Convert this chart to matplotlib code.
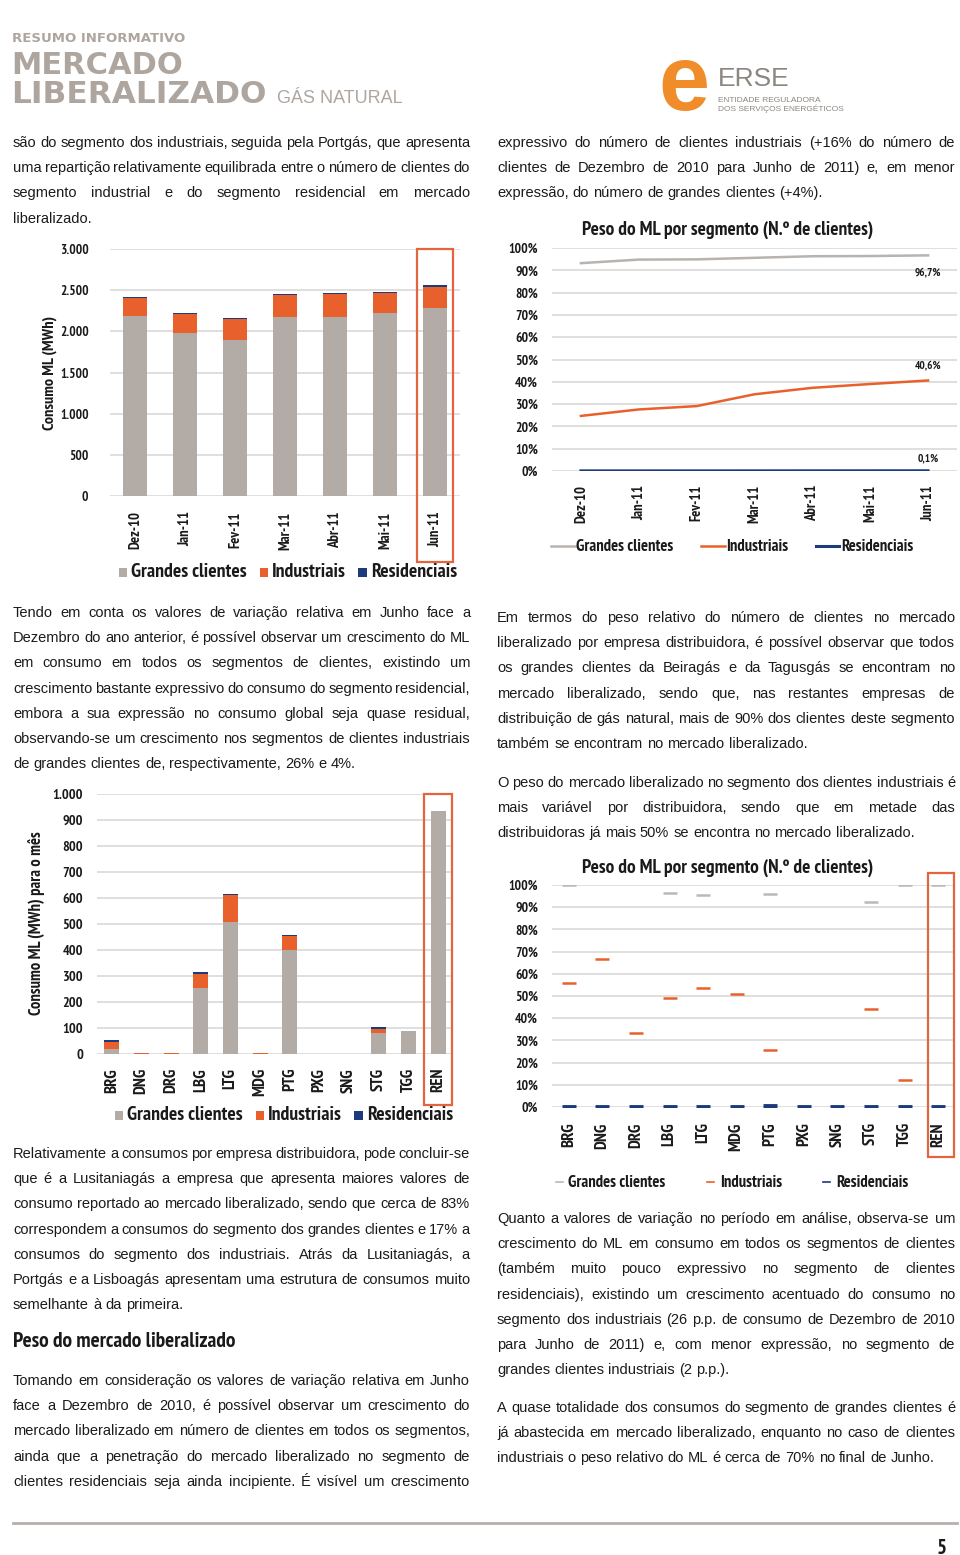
import numpy as np
import matplotlib
matplotlib.use('Agg')
import matplotlib.pyplot as plt
from matplotlib import font_manager
from matplotlib.font_manager import FontProperties
from matplotlib.lines import Line2D
from matplotlib.patches import Rectangle
import matplotlib.patheffects as pe
import matplotlib.transforms as mtransforms

# ---- data -------------------------------------------------------------
months = ['Dez-10', 'Jan-11', 'Fev-11', 'Mar-11', 'Abr-11', 'Mai-11', 'Jun-11']
cons_grandes = [2190, 1985, 1895, 2170, 2170, 2220, 2285]
cons_ind = [215, 220, 255, 267, 280, 250, 258]
cons_res = [12, 13, 12, 12, 12, 12, 14]
cons_ticks = [0, 500, 1000, 1500, 2000, 2500, 3000]

peso_grandes = [93.2, 94.8, 94.9, 95.6, 96.3, 96.4, 96.7]
peso_ind = [24.7, 27.6, 29.1, 34.4, 37.3, 39.0, 40.6]
peso_res = [0.05, 0.05, 0.06, 0.07, 0.08, 0.09, 0.1]
pct_ticks = [0, 10, 20, 30, 40, 50, 60, 70, 80, 90, 100]

dists = ['BRG', 'DNG', 'DRG', 'LBG', 'LTG', 'MDG', 'PTG', 'PXG', 'SNG', 'STG', 'TGG', 'REN']
dist_grandes = [19, 0, 0, 255, 507, 0, 400, 0, 0, 80, 87, 935]
dist_ind = [27, 3, 3, 53, 105, 3, 52, 0, 0, 18, 2, 0]
dist_res = [7, 0.5, 0.3, 6, 5, 0.5, 5, 0, 0, 6, 0, 0]
dist_ticks = [0, 100, 200, 300, 400, 500, 600, 700, 800, 900, 1000]

nan = np.nan
dpeso_grandes = [100, nan, nan, 96.6, 95.7, nan, 96.1, nan, nan, 92.2, 100, 100]
dpeso_ind = [55.7, 66.7, 33.3, 49.0, 53.6, 50.9, 25.6, nan, nan, 44.0, 12.0, nan]
dpeso_res = [0.1, 0.1, 0.1, 0.1, 0.1, 0.1, 0.4, 0.1, 0.1, 0.1, 0.1, 0.1]

legend_labels = ['Grandes clientes', 'Industriais', 'Residenciais']

# ---- text -------------------------------------------------------------
txt_a = ["são do segmento dos industriais, seguida pela Portgás, que apresenta",
         "uma repartição relativamente equilibrada entre o número de clientes do",
         "segmento industrial e do segmento residencial em mercado",
         "liberalizado."]
txt_e = ["expressivo do número de clientes industriais (+16% do número de",
         "clientes de Dezembro de 2010 para Junho de 2011) e, em menor",
         "expressão, do número de grandes clientes (+4%)."]
txt_b = ["Tendo em conta os valores de variação relativa em Junho face a",
         "Dezembro do ano anterior, é possível observar um crescimento do ML",
         "em consumo em todos os segmentos de clientes, existindo um",
         "crescimento bastante expressivo do consumo do segmento residencial,",
         "embora a sua expressão no consumo global seja quase residual,",
         "observando-se um crescimento nos segmentos de clientes industriais",
         "de grandes clientes de, respectivamente, 26% e 4%."]
txt_f = ["Em termos do peso relativo do número de clientes no mercado",
         "liberalizado por empresa distribuidora, é possível observar que todos",
         "os grandes clientes da Beiragás e da Tagusgás se encontram no",
         "mercado liberalizado, sendo que, nas restantes empresas de",
         "distribuição de gás natural, mais de 90% dos clientes deste segmento",
         "também se encontram no mercado liberalizado."]
txt_g = ["O peso do mercado liberalizado no segmento dos clientes industriais é",
         "mais variável por distribuidora, sendo que em metade das",
         "distribuidoras já mais 50% se encontra no mercado liberalizado."]
txt_c = ["Relativamente a consumos por empresa distribuidora, pode concluir-se",
         "que é a Lusitaniagás a empresa que apresenta maiores valores de",
         "consumo reportado ao mercado liberalizado, sendo que cerca de 83%",
         "correspondem a consumos do segmento dos grandes clientes e 17% a",
         "consumos do segmento dos industriais. Atrás da Lusitaniagás, a",
         "Portgás e a Lisboagás apresentam uma estrutura de consumos muito",
         "semelhante à da primeira."]
txt_d = ["Tomando em consideração os valores de variação relativa em Junho",
         "face a Dezembro de 2010, é possível observar um crescimento do",
         "mercado liberalizado em número de clientes em todos os segmentos,",
         "ainda que a penetração do mercado liberalizado no segmento de",
         "clientes residenciais seja ainda incipiente. É visível um crescimento"]
txt_h = ["Quanto a valores de variação no período em análise, observa-se um",
         "crescimento do ML em consumo em todos os segmentos de clientes",
         "(também muito pouco expressivo no segmento de clientes",
         "residenciais), existindo um crescimento acentuado do consumo no",
         "segmento dos industriais (26 p.p. de consumo de Dezembro de 2010",
         "para Junho de 2011) e, com menor expressão, no segmento de",
         "grandes clientes industriais (2 p.p.)."]
txt_i = ["A quase totalidade dos consumos do segmento de grandes clientes é",
         "já abastecida em mercado liberalizado, enquanto no caso de clientes",
         "industriais o peso relativo do ML é cerca de 70% no final de Junho."]

# ---- fonts / style ----------------------------------------------------
W, H = 960, 1555
fonts = font_manager.fontManager.ttflist
has_narrow = any(f.name == 'Liberation Sans Narrow' for f in fonts)
NARROW = 'Liberation Sans Narrow' if has_narrow else 'Liberation Sans'
narrow_bold = [f.fname for f in fonts
               if 'Narrow' in f.name and f.weight in (700, 'bold') and f.style == 'normal']
plt.rcParams['font.family'] = [NARROW, 'DejaVu Sans']

INK = '#1a1a1a'


def bk(size, color=INK):
    """kwargs for condensed bold chart text"""
    if narrow_bold:
        return dict(fontproperties=FontProperties(fname=narrow_bold[0], size=size),
                    color=color)
    if has_narrow:
        return dict(family=NARROW, fontsize=size, color=color,
                    path_effects=[pe.withStroke(linewidth=size * 0.07, foreground=color)])
    return dict(family='Liberation Sans', fontweight='bold', fontsize=size * 0.84,
                color=color)


C_G = '#b2aba6'
C_I = '#e8612c'
C_R = '#1d3a7c'
C_BOX = '#e2653f'
C_GRID = '#d9d9d9'
C_HEAD = '#aea59f'

fig = plt.figure(figsize=(W / 100, H / 100), dpi=100)
renderer = fig.canvas.get_renderer()


def fx(x):
    return x / W


def fy(y):
    return 1 - y / H


def px_axes(x0, y0, x1, y1):
    return fig.add_axes([fx(x0), fy(y1), (x1 - x0) / W, (y1 - y0) / H])


def measure(s, **kw):
    t = fig.text(0, 0, s, **kw)
    w = t.get_window_extent(renderer).width
    t.remove()
    return w


BODY = dict(fontsize=12.5 if has_narrow else 10.5, color=INK)


def paragraph(lines, x0, x1, y0, step=25.2, last_justified=False):
    space = measure('a a', **BODY) - measure('aa', **BODY)
    for i, line in enumerate(lines):
        y = y0 + i * step
        words = line.split()
        widths = [measure(w, **BODY) for w in words]
        last = (i == len(lines) - 1) and not last_justified
        if last or len(words) == 1:
            gap = space
        else:
            gap = max((x1 - x0 - sum(widths)) / (len(words) - 1), space * 0.6)
        x = x0
        for w, wd in zip(words, widths):
            fig.text(fx(x), fy(y), w, ha='left', va='baseline', **BODY)
            x += wd + gap


def fitted_bold(s, width, guess=12):
    w = measure(s, **bk(guess))
    return guess * width / w


LX0, LX1 = 13, 470
RX0, RX1 = 497, 955
paragraph(txt_a, LX0, LX1, 147)
paragraph(txt_e, RX0, RX1, 147)
paragraph(txt_b, LX0, LX1, 617)
paragraph(txt_f, RX0, RX1, 622)
paragraph(txt_g, RX0, RX1, 787)
paragraph(txt_c, LX0, LX1, 1158)
heading = 'Peso do mercado liberalizado'
fig.text(fx(LX0), fy(1347), heading, va='baseline',
         **bk(fitted_bold(heading, 225, 14)))
paragraph(txt_d, LX0, LX1, 1385, last_justified=True)
paragraph(txt_h, RX0, RX1, 1223)
paragraph(txt_i, RX0, RX1, 1412)

# ---- header -----------------------------------------------------------
fig.text(fx(12), fy(42), 'RESUMO INFORMATIVO', fontsize=9.5, fontweight='bold',
         color=C_HEAD, family='DejaVu Sans', va='baseline')
fig.text(fx(11), fy(74), 'MERCADO', fontsize=22, fontweight='bold',
         color=C_HEAD, family='DejaVu Sans', va='baseline')
fig.text(fx(11), fy(103), 'LIBERALIZADO', fontsize=22.5, fontweight='bold',
         color=C_HEAD, family='DejaVu Sans', va='baseline')
fig.text(fx(277), fy(103), 'GÁS NATURAL', fontsize=13, color=C_HEAD,
         family='Liberation Sans', va='baseline')

fig.text(fx(684), fy(110), 'e', fontsize=66, fontweight='bold', color='#f08d2a',
         family='Liberation Sans', ha='center', va='baseline')
fig.text(fx(718), fy(86), 'ERSE', fontsize=19, color='#8c8681',
         family='Liberation Sans', va='baseline')
fig.text(fx(718), fy(102), 'ENTIDADE REGULADORA', fontsize=6, color='#8c8681',
         family='Liberation Sans', va='baseline')
fig.text(fx(718), fy(111), 'DOS SERVIÇOS ENERGÉTICOS', fontsize=6, color='#8c8681',
         family='Liberation Sans', va='baseline')

# ---- footer -----------------------------------------------------------
fig.add_artist(Line2D([fx(13), fx(957)], [fy(1523), fy(1523)], color='#b5b0ac',
                      lw=2, transform=fig.transFigure))
fig.text(fx(942), fy(1554), '5', ha='center', va='baseline', **bk(15))


# ---- charts -----------------------------------------------------------
def style(ax):
    for s in ax.spines.values():
        s.set_visible(False)
    ax.grid(axis='y', color=C_GRID, lw=1.2)
    ax.set_axisbelow(True)
    ax.tick_params(length=0)


def fmt_thousands(v):
    return f'{v:,}'.replace(',', '.')


def highlight(ax, x0, x1, y0, y1):
    trans = mtransforms.blended_transform_factory(ax.transData, ax.transAxes)
    ax.add_patch(Rectangle((x0, y0), x1 - x0, y1 - y0, transform=trans,
                           fill=False, ec=C_BOX, lw=1.6, clip_on=False))


def legend(ax, handles, cx, cy, size, **kw):
    leg = ax.legend(handles, legend_labels, ncol=3, loc='center',
                    bbox_to_anchor=(fx(cx), fy(cy)), bbox_transform=fig.transFigure,
                    frameon=False, **kw)
    for t in leg.get_texts():
        t.update(bk(size))
    return leg


# chart 1: consumo ML por mês
ax1 = px_axes(110, 249, 460, 496)
style(ax1)
x = np.arange(len(months))
g = np.array(cons_grandes)
i_ = np.array(cons_ind)
r = np.array(cons_res)
b1 = ax1.bar(x, g, width=0.48, color=C_G)
b2 = ax1.bar(x, i_, width=0.48, bottom=g, color=C_I)
b3 = ax1.bar(x, r, width=0.48, bottom=g + i_, color=C_R)
ax1.set_xlim(-0.5, len(months) - 0.5)
ax1.set_ylim(0, 3000)
ax1.set_yticks(cons_ticks, [fmt_thousands(v) for v in cons_ticks], **bk(9.5))
ax1.set_xticks(x, months, rotation=90, **bk(10.5))
ax1.tick_params(axis='y', pad=15.5)
ax1.tick_params(axis='x', pad=11)
highlight(ax1, 5.64, 6.36, -0.267, 1.0)
fig.text(fx(50), fy(373), 'Consumo ML (MWh)', rotation=90, ha='center',
         va='center', **bk(11.6))
legend(ax1, [b1, b2, b3], 288, 572, 14.2, handlelength=0.6, handleheight=0.6,
       handletextpad=0.3, columnspacing=0.9)

# chart 2: peso do ML por segmento (meses)
ax2 = px_axes(552, 248, 957, 471)
style(ax2)
l1, = ax2.plot(x, peso_grandes, color='#b8b3af', lw=1.8)
l2, = ax2.plot(x, peso_ind, color=C_I, lw=1.8)
l3, = ax2.plot(x, peso_res, color=C_R, lw=2.2)
ax2.set_xlim(-0.5, len(months) - 0.5)
ax2.set_ylim(0, 100)
ax2.set_yticks(pct_ticks, [f'{v}%' for v in pct_ticks], **bk(9.8))
ax2.set_xticks(x, months, rotation=90, **bk(10.5))
ax2.tick_params(axis='y', pad=10)
ax2.tick_params(axis='x', pad=10)
for vals, dy in [(peso_grandes, -12), (peso_ind, 11), (peso_res, 9)]:
    v = vals[-1]
    lab = f'{v:.1f}%'.replace('.', ',')
    ax2.annotate(lab, (x[-1], v), xytext=(0, dy), textcoords='offset points',
                 ha='center', va='center', **bk(8))
title = 'Peso do ML por segmento (N.º de clientes)'
title_size = fitted_bold(title, 290, 12)
fig.text(fx(728), fy(230), title, ha='center', va='center', **bk(title_size))
legend(ax2, [l1, l2, l3], 732, 547, 12, handlelength=1.7, handletextpad=0.1,
       columnspacing=2.0)

# chart 3: consumo por distribuidora
ax3 = px_axes(97, 794, 453, 1054)
style(ax3)
xd = np.arange(len(dists))
g = np.array(dist_grandes, dtype=float)
i_ = np.array(dist_ind, dtype=float)
r = np.array(dist_res, dtype=float)
c1 = ax3.bar(xd, g, width=0.5, color=C_G)
c2 = ax3.bar(xd, i_, width=0.5, bottom=g, color=C_I)
c3 = ax3.bar(xd, r, width=0.5, bottom=g + i_, color=C_R)
ax3.set_xlim(-0.5, len(dists) - 0.5)
ax3.set_ylim(0, 1000)
ax3.set_yticks(dist_ticks, [fmt_thousands(v) for v in dist_ticks], **bk(10.3))
ax3.set_xticks(xd, dists, rotation=90, **bk(12))
ax3.tick_params(axis='y', pad=10)
ax3.tick_params(axis='x', pad=10)
highlight(ax3, 10.53, 11.47, -0.196, 1.0)
fig.text(fx(37), fy(923), 'Consumo ML (MWh) para o mês', rotation=90,
         ha='center', va='center', **bk(11.9))
legend(ax3, [c1, c2, c3], 284, 1115, 14.2, handlelength=0.6, handleheight=0.6,
       handletextpad=0.3, columnspacing=0.9)

# chart 4: peso do ML por distribuidora
ax4 = px_axes(552, 885, 955, 1107)
style(ax4)
ax4.plot(xd, dpeso_grandes, ls='none', marker='_', ms=10, mew=1.8, color='#bdb8b4')
ax4.plot(xd, dpeso_ind, ls='none', marker='_', ms=10, mew=1.8, color=C_I)
ax4.plot(xd, dpeso_res, ls='none', marker='_', ms=10, mew=3.5, color=C_R)
ax4.set_xlim(-0.5, len(dists) - 0.5)
ax4.set_ylim(0, 100)
ax4.set_yticks(pct_ticks, [f'{v}%' for v in pct_ticks], **bk(9.8))
ax4.set_xticks(xd, dists, rotation=90, **bk(12))
ax4.tick_params(axis='y', pad=10)
ax4.tick_params(axis='x', pad=11)
highlight(ax4, 10.7, 11.48, -0.225, 1.054)
fig.text(fx(728), fy(868), title, ha='center', va='center', **bk(title_size))
h4 = [Line2D([], [], color=c, lw=1.2) for c in ('#bdb8b4', C_I, C_R)]
legend(ax4, h4, 732, 1183, 12, handlelength=0.5, handletextpad=0.4,
       columnspacing=3.0)

fig.savefig('out.png', dpi=100)
